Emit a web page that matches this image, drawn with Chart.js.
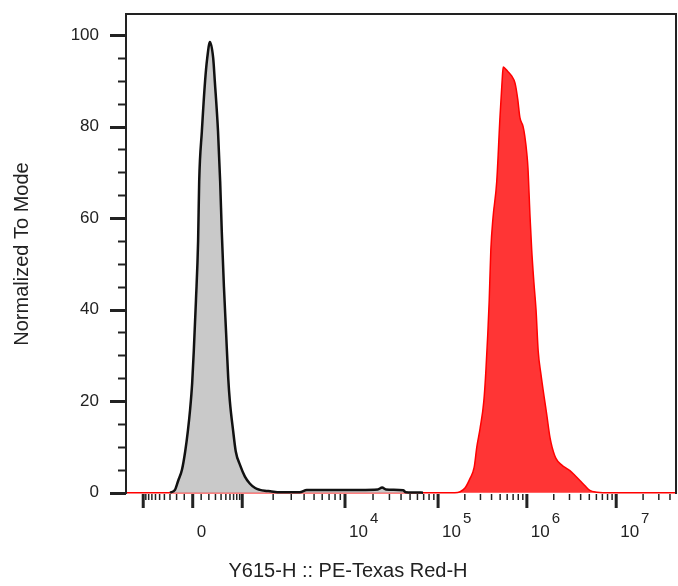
<!DOCTYPE html>
<html>
<head>
<meta charset="utf-8">
<script src="https://cdn.jsdelivr.net/npm/chart.js@4.4.0/dist/chart.umd.min.js"></script>
<style>
  body { margin: 0; background: #fff; }
  canvas { display: block; }
</style>
</head>
<body>
<canvas id="histo" width="678" height="586"></canvas>
<script>
"use strict";

// x is in display channels (0-1024) of the biexponential axis
const grayChannels = [82, 91, 97, 104, 110, 115, 119, 123, 126, 130, 134, 136, 141, 147, 151, 156,
  162, 165, 171, 175, 178, 182, 186, 190, 193, 199, 204, 212, 221, 230, 240, 249, 258, 268,
  286, 323, 336, 379, 435, 468, 476, 483, 515, 520, 552];
const grayCounts = [0, 0.6, 2.6, 5, 9, 13.5, 18, 24, 31, 42, 55, 68, 79, 90, 95, 98.5,
  95, 90, 79, 68, 57, 45, 35, 25, 20, 13.6, 9, 6, 3.5, 2, 1, 0.6, 0.4, 0.3,
  0.1, 0.1, 0.6, 0.6, 0.6, 0.7, 1.1, 0.7, 0.5, 0.1, 0];

const redChannels = [0, 611, 621, 630, 639, 647, 652, 658, 665, 669, 675, 678, 682, 689, 695, 699, 701,
  706, 710, 717, 723, 728, 732, 738, 741, 745, 747, 751, 754, 758, 762, 766, 771, 777, 782,
  788, 792, 799, 810, 820, 825, 834, 844, 853, 862, 875, 886, 1024];
const redCounts = [0, 0, 0.2, 1, 3, 5.5, 10, 14, 20, 27, 42, 53, 60, 68, 82, 90, 93,
  92.5, 92, 91, 89.5, 86, 82, 80, 78, 74, 71, 60, 53, 46, 40, 31, 26, 21, 17,
  12, 9.9, 7.5, 6, 5.2, 4.8, 3.8, 2.6, 1.5, 0.5, 0.1, 0, 0];

// axis: where the decades sit on the channel scale, and their labels
const decadeValues = [-1e3, 0, 1e3, 1e4, 1e5, 1e6, 1e7];
const decadeChannels = [32, 124, 216, 407, 580, 745, 911];
const xTickBase = ["", "0", "", "10", "10", "10", "10"];
const xTickExp = ["", "", "", "4", "5", "6", "7"];

const yTicks = [0, 20, 40, 60, 80, 100];
const yMinorStep = 5;

const FONT = "'Liberation Sans', Arial, sans-serif";
const INK = "#222";

function channelOf(v) {
  const c0 = decadeChannels[1];
  if (Math.abs(v) <= 1000) {
    const side = v < 0 ? c0 - decadeChannels[0] : decadeChannels[2] - c0;
    return c0 + Math.sign(v) * side * Math.asinh(Math.abs(v) / 300) / Math.asinh(1000 / 300);
  }
  const d = Math.floor(Math.log10(v));
  const frac = Math.log10(v) - d;
  if (d >= 7) {
    return decadeChannels[6] + (decadeChannels[6] - decadeChannels[5]) * frac;
  }
  const lo = decadeChannels[d - 1], hi = decadeChannels[d];
  return lo + (hi - lo) * frac;
}

// minor ticks of the biex axis
const xMinor = [];
for (let k = 1; k <= 9; k++) {
  xMinor.push(channelOf(k * 100), channelOf(-k * 100));
}
for (let d = 3; d <= 7; d++) {
  for (let k = 2; k <= 9; k++) xMinor.push(channelOf(k * Math.pow(10, d)));
}

const axisDecor = {
  id: "axisDecor",
  afterDraw(chart) {
    const ctx = chart.ctx;
    const x = chart.scales.x, y = chart.scales.y;
    const a = chart.chartArea;
    ctx.save();
    ctx.strokeStyle = INK;
    ctx.fillStyle = INK;

    // frame
    ctx.lineWidth = 2;
    ctx.beginPath();
    ctx.moveTo(a.left, a.bottom);
    ctx.lineTo(a.left, a.top);
    ctx.lineTo(a.right - 1, a.top);
    ctx.lineTo(a.right - 1, a.bottom);
    ctx.stroke();

    // y ticks
    for (let v = 0; v <= 100; v += yMinorStep) {
      const major = yTicks.includes(v);
      const py = Math.round(y.getPixelForValue(v)) + 0.5;
      ctx.lineWidth = major ? 3 : 2;
      ctx.beginPath();
      ctx.moveTo(a.left - (major ? 16 : 8), py);
      ctx.lineTo(a.left, py);
      ctx.stroke();
    }

    // x ticks
    ctx.lineWidth = 1.5;
    xMinor.forEach(c => {
      if (c < x.min || c > x.max) return;
      const px = x.getPixelForValue(c);
      ctx.beginPath();
      ctx.moveTo(px, a.bottom);
      ctx.lineTo(px, a.bottom + 6);
      ctx.stroke();
    });
    ctx.lineWidth = 3;
    decadeChannels.forEach(c => {
      const px = x.getPixelForValue(c);
      ctx.beginPath();
      ctx.moveTo(px, a.bottom);
      ctx.lineTo(px, a.bottom + 14);
      ctx.stroke();
    });

    // x tick labels with superscripts
    ctx.textAlign = "left";
    ctx.textBaseline = "alphabetic";
    decadeChannels.forEach((c, i) => {
      if (!xTickBase[i]) return;
      const px = x.getPixelForValue(c) + 4;
      ctx.font = "17px " + FONT;
      ctx.fillText(xTickBase[i], px, a.bottom + 43);
      if (xTickExp[i]) {
        const w = ctx.measureText(xTickBase[i]).width;
        ctx.font = "15px " + FONT;
        ctx.fillText(xTickExp[i], px + w + 2, a.bottom + 29);
      }
    });

    // x axis title
    ctx.font = "20px " + FONT;
    ctx.textAlign = "center";
    ctx.fillText("Y615-H :: PE-Texas Red-H", 348, a.bottom + 83);
    ctx.restore();
  }
};

new Chart(document.getElementById("histo"), {
  type: "line",
  data: {
    datasets: [{
      label: "Unstained",
      data: grayChannels.map((c, i) => ({ x: c, y: grayCounts[i] })),
      borderColor: "#111",
      borderWidth: 2.5,
      backgroundColor: "#c9c9c9",
      fill: "origin",
      pointRadius: 0,
      cubicInterpolationMode: "monotone"
    }, {
      label: "PE-Texas Red",
      data: redChannels.map((c, i) => ({ x: c, y: redCounts[i] })),
      borderColor: "#ff0000",
      borderWidth: 1.5,
      backgroundColor: "#ff3535",
      fill: "origin",
      pointRadius: 0,
      cubicInterpolationMode: "monotone"
    }]
  },
  options: {
    responsive: false,
    animation: false,
    devicePixelRatio: 1,
    layout: { padding: { top: 14, right: 1, left: 0, bottom: 0 } },
    scales: {
      x: {
        type: "linear",
        min: 0,
        max: 1024,
        grid: { display: false, drawTicks: false },
        border: { display: false },
        ticks: { display: false },
        afterFit: s => { s.height = 92; s.paddingLeft = 0; s.paddingRight = 0; }
      },
      y: {
        min: -0.3,
        max: 104.6,
        grid: { display: false, drawTicks: false },
        border: { display: false },
        afterBuildTicks: s => { s.ticks = yTicks.map(v => ({ value: v })); },
        ticks: {
          padding: 27,
          color: INK,
          font: { family: FONT, size: 17 }
        },
        title: {
          display: true,
          text: "Normalized To Mode",
          color: INK,
          padding: { top: 10, bottom: 0 },
          font: { family: FONT, size: 20 }
        },
        afterFit: s => { s.width = 126; s.paddingTop = 0; s.paddingBottom = 0; }
      }
    },
    plugins: {
      legend: { display: false },
      tooltip: { enabled: false }
    }
  },
  plugins: [axisDecor]
});
</script>
</body>
</html>
